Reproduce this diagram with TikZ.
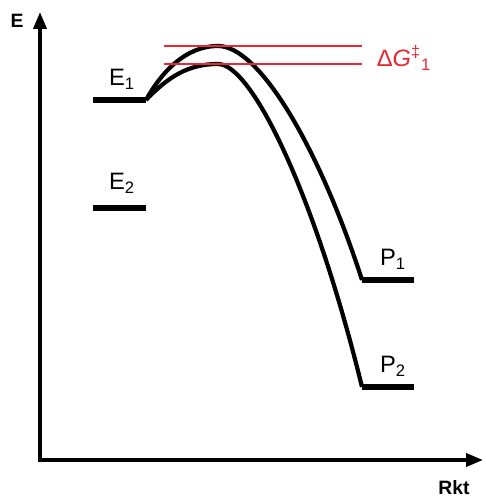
\documentclass[tikz,border=0pt]{standalone}
\usepackage{fontspec}
\setmainfont{Liberation Sans}
\usetikzlibrary{arrows.meta}
\definecolor{barrierred}{RGB}{232,40,50}

\begin{document}
\begin{tikzpicture}[
    x=0.02cm,
    y=-0.02cm,
    axis/.style={
        line width=2.1pt,
        line join=miter,
        {Triangle[length=0.34cm,width=0.26cm]}-{Triangle[length=0.34cm,width=0.26cm]}
    },
    level/.style={
        line width=3pt
    },
    curve/.style={
        line width=2.4pt,
        line join=round
    },
    barrier/.style={
        line width=1.1pt,
        barrierred
    },
    lbl/.style={
        font=\fontsize{13.5}{15}\selectfont,
        inner sep=0pt
    },
    axlbl/.style={
        font=\fontsize{11}{13}\selectfont\bfseries,
        inner sep=0pt
    }
]

    \useasboundingbox (0,0) rectangle (485,502);

    % axes
    \coordinate (O) at (40,460);
    \coordinate (ytip) at (40,12);
    \coordinate (xtip) at (483,460);
    \draw[axis] (ytip) -- (O) -- (xtip);
    \node[axlbl] (elabel) at (17,21) {E};
    \node[axlbl] (rkt) at (454,488) {Rkt};

    % levels
    \coordinate (E1l) at (93,100);
    \coordinate (E1r) at (146,100);
    \coordinate (E2l) at (93,208);
    \coordinate (E2r) at (146,208);
    \coordinate (P1l) at (362,280);
    \coordinate (P1r) at (414,280);
    \coordinate (P2l) at (362,387);
    \coordinate (P2r) at (414,387);
    \draw[level] (E1l) -- (E1r);
    \draw[level] (E2l) -- (E2r);
    \draw[level] (P1l) -- (P1r);
    \draw[level] (P2l) -- (P2r);

    \node[lbl] (e1) at (122,79) {E\textsubscript{1}};
    \node[lbl] (e2) at (122,183) {E\textsubscript{2}};
    \node[lbl] (p1) at (393,259) {P\textsubscript{1}};
    \node[lbl] (p2) at (393,366) {P\textsubscript{2}};

    % reaction paths
    \coordinate (TS1) at (218,46);
    \coordinate (TS2) at (218,64);
    \draw[curve] (E1r) .. controls (161,73) and (185,46) .. (TS1)
        .. controls (260,46) and (320,150) .. (P1l);
    \draw[curve] (E1r) .. controls (168,77) and (188,64) .. (TS2)
        .. controls (252,64) and (315,195) .. (P2l);

    % barrier
    \coordinate (b1l) at (164,46);
    \coordinate (b1r) at (362,46);
    \coordinate (b2l) at (164,64);
    \coordinate (b2r) at (362,64);
    \draw[barrier] (b1l) -- (b1r);
    \draw[barrier] (b2l) -- (b2r);
    \node[lbl, barrierred] (dG) at (404,58)
        {Δ\textit{G}\textsuperscript{‡}\textsubscript{1}};

\end{tikzpicture}
\end{document}
